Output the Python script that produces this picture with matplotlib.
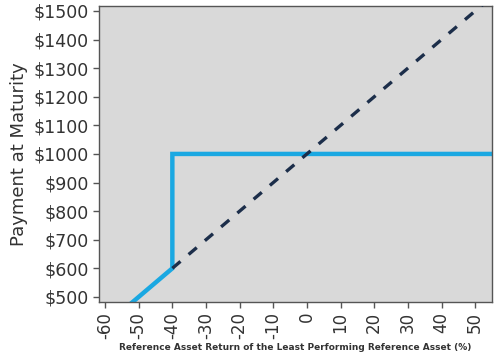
import matplotlib
matplotlib.use('Agg')
import matplotlib.pyplot as plt

# payoff profile (reference asset return %, payment $)
payoff_x = [-60, -40, -40, 55]
payoff_y = [400, 600, 1000, 1000]
# direct investment line
direct_x = [-40, 55]
direct_y = [600, 1550]

x_ticks = [-60, -50, -40, -30, -20, -10, 0, 10, 20, 30, 40, 50]
y_ticks = [500, 600, 700, 800, 900, 1000, 1100, 1200, 1300, 1400, 1500]

fig = plt.figure(figsize=(5, 3.6), dpi=100)
ax = fig.add_axes([0.198, 0.161, 0.786, 0.822])
ax.set_facecolor('#d9d9d9')

ax.plot(payoff_x, payoff_y, color='#1aa8e2', lw=3.2, solid_joinstyle='miter', zorder=2)
ax.plot(direct_x, direct_y, color='#1c2e4a', lw=2.4, dashes=(3.2, 3.2), zorder=3)

ax.set_xlim(-61.8, 55)
ax.set_ylim(482, 1517)
ax.set_xticks(x_ticks)
ax.set_xticklabels([str(t) for t in x_ticks], rotation=90)
ax.set_yticks(y_ticks)
ax.set_yticklabels(['$%d' % t for t in y_ticks])
ax.tick_params(axis='both', colors='#555555', labelcolor='#333333', labelsize=12.5, length=4, width=1)
ax.tick_params(axis='x', labelsize=12, pad=3)

for s in ax.spines.values():
    s.set_color('#555555')
    s.set_linewidth(1)

ax.set_ylabel('Payment at Maturity', fontsize=13, color='#333333', labelpad=4)
fig.text(0.59, 1 - 348 / 360,
         'Reference Asset Return of the Least Performing Reference Asset (%)',
         fontsize=6.5, fontweight='bold', color='#333333', ha='center', va='center')

fig.savefig('out.png', dpi=100, facecolor='white')
